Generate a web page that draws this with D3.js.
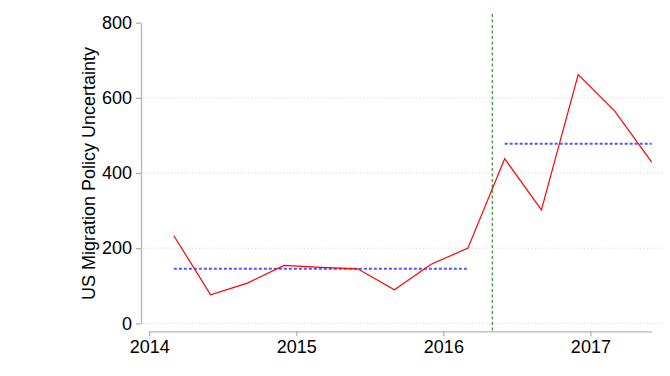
<!DOCTYPE html>
<html>
<head>
<meta charset="utf-8">
<script src="https://cdn.jsdelivr.net/npm/d3@7"></script>
<style>
  html, body { margin: 0; padding: 0; background: #fff; }
  svg { display: block; font-family: 'Liberation Sans', Arial, sans-serif; }
</style>
</head>
<body>
<div id="chart"></div>
<script>
'use strict'

// quarterly observations (decimal year)
var dates = [2014.167, 2014.417, 2014.667, 2014.917,
  2015.167, 2015.417, 2015.667, 2015.917,
  2016.167, 2016.417, 2016.667, 2016.917,
  2017.167, 2017.417]
var values = [233, 76, 107, 154, 149, 145, 89, 157, 200, 438, 302, 662, 564, 429]

// period averages before / after the break
var periodStart = [2014.167, 2016.417]
var periodEnd = [2016.167, 2017.417]
var periodMean = [145, 478]

var breakDate = 2016.333

var yTicks = [0, 200, 400, 600, 800]
var yGrid = [0, 200, 400, 600]
var xTicks = [2014, 2015, 2016, 2017]
var yTitle = 'US Migration Policy Uncertainty'

var width = 670
var height = 376

var x = d3.scaleLinear().domain([2014, 2017.417]).range([149.3, 651.7])
var y = d3.scaleLinear().domain([0, 800]).range([323.3, 22.7])

var svg = d3.select('#chart').append('svg')
  .attr('width', width)
  .attr('height', height)

// grid
svg.append('g').attr('class', 'grid')
  .selectAll('line')
  .data(yGrid)
  .enter().append('line')
  .attr('x1', 143)
  .attr('x2', 662)
  .attr('y1', function (d) { return y(d) })
  .attr('y2', function (d) { return y(d) })
  .style('stroke', '#d4d4d4')
  .style('stroke-width', '1px')
  .style('stroke-dasharray', '1.2,2.3')

// axes
var yAxis = svg.append('g')
  .attr('transform', 'translate(141,0)')
  .call(d3.axisLeft(y).tickValues(yTicks).tickSize(5).tickSizeOuter(0).tickPadding(4))
var xAxis = svg.append('g')
  .attr('transform', 'translate(0,331.3)')
  .call(d3.axisBottom(x).tickValues(xTicks).tickFormat(d3.format('d')).tickSize(5).tickSizeOuter(0).tickPadding(4))

;[yAxis, xAxis].forEach(function (g) {
  g.select('.domain').style('stroke', '#b4b4b4').style('stroke-width', '1.3px')
  g.selectAll('.tick line').style('stroke', '#b4b4b4').style('stroke-width', '1.3px')
  g.selectAll('.tick text')
    .style('font-family', "'Liberation Sans', Arial, sans-serif")
    .style('font-size', '18px')
    .style('fill', '#000')
})

// axis title
svg.append('text')
  .attr('transform', 'translate(95,173.5) rotate(-90)')
  .attr('text-anchor', 'middle')
  .style('font-size', '18px')
  .style('fill', '#000')
  .text(yTitle)

// break line
svg.append('line')
  .attr('x1', x(breakDate))
  .attr('x2', x(breakDate))
  .attr('y1', 14)
  .attr('y2', 331)
  .style('stroke', '#3d9a3d')
  .style('stroke-width', '1.3px')
  .style('stroke-dasharray', '3,2.5')

// period means
svg.append('g').selectAll('line')
  .data(periodMean)
  .enter().append('line')
  .attr('x1', function (d, i) { return x(periodStart[i]) })
  .attr('x2', function (d, i) { return x(periodEnd[i]) })
  .attr('y1', function (d) { return y(d) })
  .attr('y2', function (d) { return y(d) })
  .style('stroke', '#5555ff')
  .style('stroke-width', '2px')
  .style('stroke-dasharray', '3,2')

// series
var line = d3.line()
  .x(function (d) { return x(d[0]) })
  .y(function (d) { return y(d[1]) })

svg.append('path')
  .datum(d3.zip(dates, values))
  .attr('d', line)
  .style('fill', 'none')
  .style('stroke', '#ff0000')
  .style('stroke-width', '1.2px')
</script>
</body>
</html>
